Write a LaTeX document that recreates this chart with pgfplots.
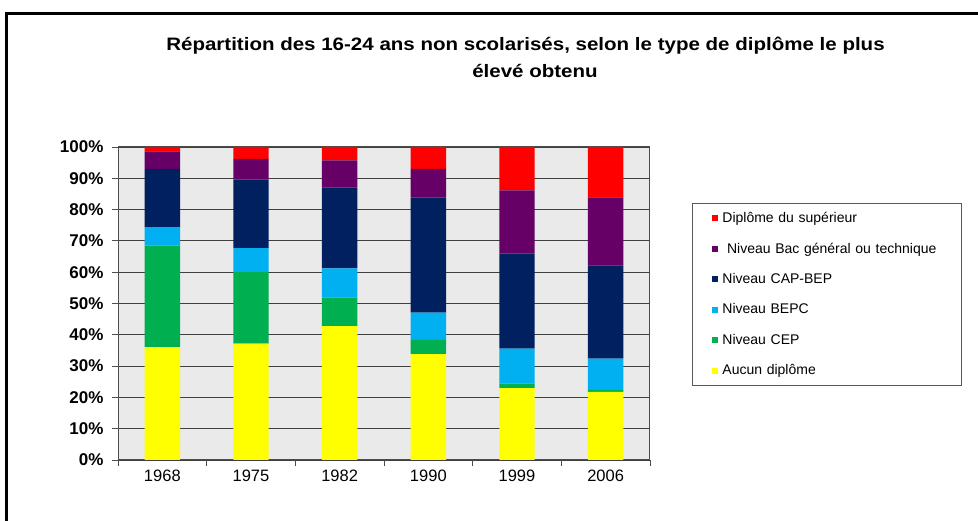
\documentclass[border=0pt]{standalone}
\usepackage{graphicx}
\usepackage{pgfplots}
\pgfplotsset{compat=1.18}
\usepackage{pgfplotstable}
\usepackage{fontspec}
\setmainfont{Liberation Sans}
\definecolor{cSup}{HTML}{FF0000}
\definecolor{cBac}{HTML}{660066}
\definecolor{cCap}{HTML}{002060}
\definecolor{cBepc}{HTML}{00B0F0}
\definecolor{cCep}{HTML}{00B050}
\definecolor{cAuc}{HTML}{FFFF00}
\definecolor{bgplot}{HTML}{EAEAEA}
\pgfplotstableread{
x Aucun CEP BEPC CAP Bac Sup
0 36.1 32.4 5.9 18.6 5.6 1.4
1 37.2 22.8 7.7 21.9 6.6 3.8
2 42.8 9.1 9.3 25.8 8.7 4.3
3 33.8 4.6 8.7 36.7 9.2 7.0
4 23.0 1.4 11.2 30.3 20.2 13.9
5 21.8 0.6 10.0 29.8 21.7 16.1
}\datatable
\begin{document}
\begin{tikzpicture}[x=1pt,y=1pt]
\useasboundingbox (0,0) rectangle (978,521);
\fill[white] (0,0) rectangle (978,521);
\draw[line width=3pt] (6,-2) -- (6,507) -- (980,507);
\node[font=\bfseries\fontsize{18}{20}\selectfont] at (525.5,475) {\scalebox{1.14}[1]{Répartition des 16-24 ans non scolarisés, selon le type de diplôme le plus}};
\node[font=\bfseries\fontsize{18}{20}\selectfont] at (535,450) {\scalebox{1.14}[1]{élevé obtenu}};
\begin{axis}[
  at={(118pt,61pt)}, anchor=south west,
  width=532pt, height=313pt, scale only axis,
  xmin=-0.5, xmax=5.5, ymin=0, ymax=100,
  ybar stacked, bar width=0.4,
  axis background/.style={fill=bgplot},
  axis line style={draw=gray!60!black, line width=1pt},
  tick align=outside, tick pos=left,
  major tick length=6pt,
  tick style={draw=gray!60!black, line width=0.8pt},
  ymajorgrids, grid style={draw=black!75, line width=0.8pt},
  ytick={0,10,...,100},
  yticklabels={0\%,10\%,20\%,30\%,40\%,50\%,60\%,70\%,80\%,90\%,100\%},
  yticklabel style={font=\bfseries\fontsize{17}{19}\selectfont, xshift=-5pt},
  xtick={-0.5,0.5,...,5.5},
  xticklabels={},
  extra x ticks={0,1,2,3,4,5},
  extra x tick labels={1968,1975,1982,1990,1999,2006},
  extra x tick style={major tick length=0pt, grid=none, xticklabel style={font=\fontsize{16.5}{18}\selectfont, yshift=-6pt}},
  reverse legend,
  legend image code/.code={\fill[#1] (0pt,-3pt) rectangle (6pt,3pt);},
  legend cell align=left,
  legend style={at={(1.079,0.822)}, anchor=north west, draw=gray!70!black, line width=0.8pt, fill=white,
    font=\fontsize{14}{16}\selectfont, row sep=14.8pt, inner xsep=20pt, inner ysep=7pt,
    nodes={text width=215pt, inner xsep=4pt}},
]
\addplot[fill=cAuc, draw=none] table[x=x,y=Aucun]{\datatable};
\addlegendentry{Aucun diplôme}
\addplot[fill=cCep, draw=none] table[x=x,y=CEP]{\datatable};
\addlegendentry{Niveau CEP}
\addplot[fill=cBepc, draw=none] table[x=x,y=BEPC]{\datatable};
\addlegendentry{Niveau BEPC}
\addplot[fill=cCap, draw=none] table[x=x,y=CAP]{\datatable};
\addlegendentry{Niveau CAP-BEP}
\addplot[fill=cBac, draw=none] table[x=x,y=Bac]{\datatable};
\addlegendentry{\ Niveau Bac général ou technique}
\addplot[fill=cSup, draw=none] table[x=x,y=Sup]{\datatable};
\addlegendentry{Diplôme du supérieur}
\end{axis}
\end{tikzpicture}
\end{document}
